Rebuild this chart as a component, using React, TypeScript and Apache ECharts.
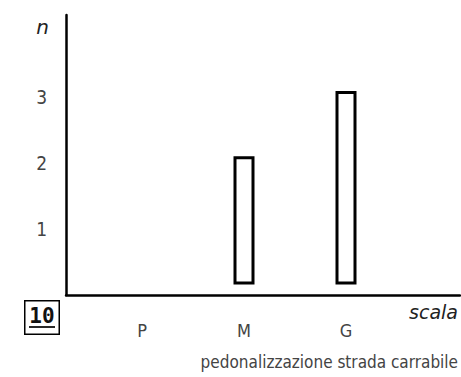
import React, { useEffect, useRef } from "react";
import * as echarts from "echarts";

const categories = ["P", "M", "G"];
const barBottom: (number | null)[] = [null, 0.16, 0.16];
const barTop: (number | null)[] = [null, 2.1, 3.09];
const yTickLabels = [1, 2, 3];
const yName = "n";
const xName = "scala";
const subtitle = "pedonalizzazione strada carrabile";
const badge = "10";

const FONT = "'DejaVu Sans Condensed', 'Liberation Sans', sans-serif";
const ITALIC_FONT = "'DejaVu Sans', sans-serif";
const TEXT_COLOR = "#444";

export default function App() {
  const ref = useRef<HTMLDivElement>(null);
  useEffect(() => {
    if (!ref.current) return;
    const chart = echarts.init(ref.current, undefined, { renderer: "svg" });
    const yMax = 4.24;
    const boxHeights = barTop.map((t, i) => (t == null || barBottom[i] == null ? null : +(t - (barBottom[i] as number)).toFixed(3)));
    chart.setOption({
      animation: false,
      backgroundColor: "#fff",
      title: {
        text: subtitle,
        right: 3,
        top: 353,
        padding: 0,
        textStyle: { fontFamily: FONT, fontSize: 17, fontWeight: "normal", color: TEXT_COLOR },
      },
      grid: [
        { left: 66, right: 1, top: 15, height: 280 },
        { left: 91, width: 306, top: 15, height: 280 },
      ],
      xAxis: [
        {
          gridIndex: 0,
          type: "value",
          min: 0,
          max: 1,
          axisLine: { show: true, lineStyle: { color: "#000", width: 2.5 } },
          axisTick: { show: false },
          axisLabel: { show: false },
          splitLine: { show: false },
          name: xName,
          nameLocation: "end",
          nameGap: -2,
          nameTextStyle: {
            fontFamily: ITALIC_FONT,
            fontStyle: "italic",
            fontSize: 19,
            color: "#222",
            align: "right",
            verticalAlign: "top",
            padding: [7, 0, 0, 0],
          },
        },
        {
          gridIndex: 1,
          type: "category",
          data: categories,
          axisLine: { show: false },
          axisTick: { show: false },
          axisLabel: { fontFamily: FONT, fontSize: 18, color: TEXT_COLOR, margin: 26 },
        },
      ],
      yAxis: [
        {
          gridIndex: 0,
          type: "value",
          min: 0,
          max: yMax,
          axisLine: { show: true, lineStyle: { color: "#000", width: 2.5 } },
          axisTick: { show: false },
          splitLine: { show: false },
          axisLabel: {
            customValues: yTickLabels,
            fontFamily: FONT,
            fontSize: 19,
            color: TEXT_COLOR,
            margin: 19,
          },
          name: yName,
          nameLocation: "end",
          nameGap: -2,
          nameTextStyle: {
            fontFamily: ITALIC_FONT,
            fontStyle: "italic",
            fontSize: 20,
            color: "#222",
            align: "right",
            verticalAlign: "top",
            padding: [0, 17, 0, 0],
          },
        },
        {
          gridIndex: 1,
          type: "value",
          min: 0,
          max: yMax,
          show: false,
        },
      ],
      series: [
        {
          type: "bar",
          xAxisIndex: 1,
          yAxisIndex: 1,
          stack: "box",
          data: barBottom,
          barWidth: 21,
          itemStyle: { color: "transparent" },
          silent: true,
        },
        {
          type: "bar",
          xAxisIndex: 1,
          yAxisIndex: 1,
          stack: "box",
          data: boxHeights,
          barWidth: 21,
          itemStyle: { color: "#fff", borderColor: "#000", borderWidth: 3 },
        },
      ],
      graphic: [
        {
          type: "group",
          left: 24,
          top: 300,
          children: [
            {
              type: "rect",
              shape: { x: 0.75, y: 0.75, width: 34.5, height: 33.5 },
              style: { fill: "#fff", stroke: "#000", lineWidth: 1.5 },
            },
            {
              type: "text",
              x: 18,
              y: 16,
              style: {
                text: badge,
                font: "bold 21px 'DejaVu Sans Mono', monospace",
                fill: "#111",
                align: "center",
                verticalAlign: "middle",
              },
            },
            {
              type: "line",
              shape: { x1: 5, y1: 27, x2: 31, y2: 27 },
              style: { stroke: "#111", lineWidth: 1.8 },
            },
          ],
        },
      ],
    });
    return () => chart.dispose();
  }, []);
  return <div ref={ref} style={{ width: 461, height: 377, position: "absolute", left: 0, top: 0 }} />;
}
